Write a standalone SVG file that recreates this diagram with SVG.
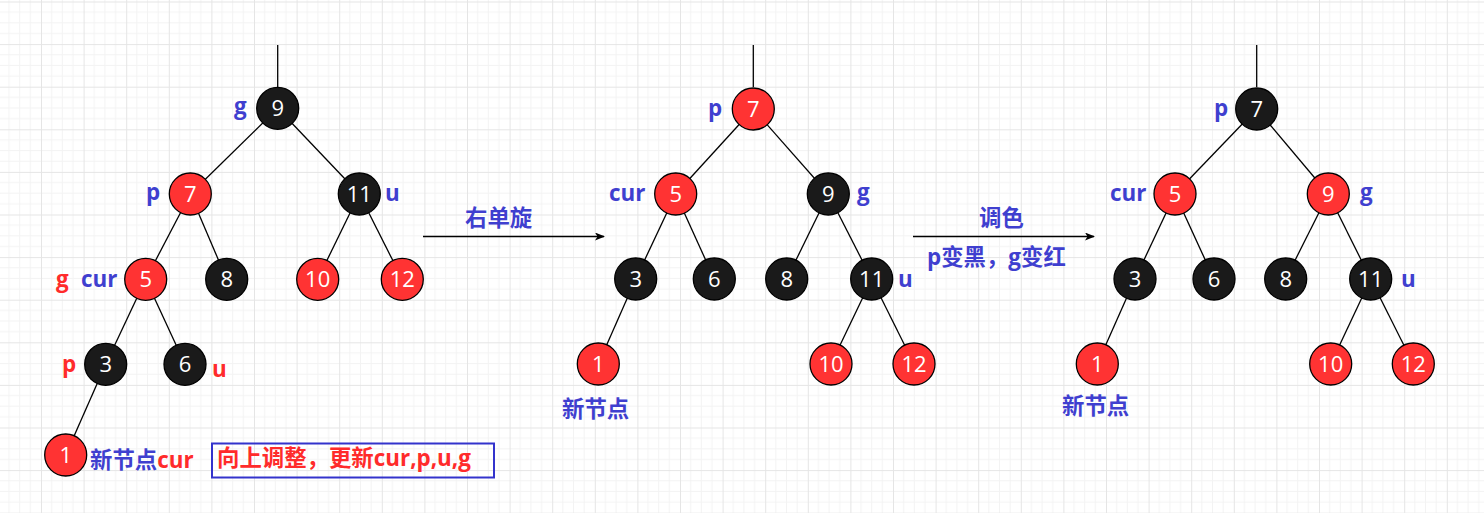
<svg xmlns="http://www.w3.org/2000/svg" width="1484" height="513" viewBox="0 0 1484 513">
<defs>
<pattern id="grid" patternUnits="userSpaceOnUse" x="-1.6" y="1.5" width="42.6" height="42.6">
<path d="M10.65 0V42.6M21.3 0V42.6M31.95 0V42.6M0 10.65H42.6M0 21.3H42.6M0 31.95H42.6" stroke="#f3f3f3" stroke-width="1" fill="none"/>
<path d="M0.5 0V42.6M0 0.5H42.6" stroke="#e5e5e5" stroke-width="1" fill="none"/>
</pattern>
<marker id="arr" viewBox="0 0 10 8" refX="9" refY="4" markerWidth="10" markerHeight="8" markerUnits="userSpaceOnUse" orient="auto">
<path d="M0 0L10 4L0 8L2.5 4Z" fill="#000"/>
</marker>
<style>
.e{stroke:#000;stroke-width:1.3;fill:none}
.r{fill:#ff3333;stroke:#000;stroke-width:1.3}
.b{fill:#1a1a1a;stroke:#000;stroke-width:1.3}
.n{fill:#fff;font-family:"Open Sans","Liberation Sans","Noto Sans CJK SC",sans-serif;font-size:22px;text-anchor:middle}
.l{font-family:"Open Sans","Liberation Sans","Noto Sans CJK SC",sans-serif;font-size:22.4px;font-weight:bold}
.bl{fill:#3f3fcf}
.rd{fill:#ff2b2b}
</style>
</defs>
<rect width="1484" height="513" fill="#fff"/>
<rect width="1484" height="513" fill="url(#grid)"/>

<g id="connectors">
<!-- tree 1 -->
<path class="e" d="M277.7 45V87"/>
<path class="e" d="M277.7 108.3L190.3 194"/>
<path class="e" d="M277.7 108.3L359.3 194"/>
<path class="e" d="M190.3 194L145.7 279.3"/>
<path class="e" d="M190.3 194L226.7 279.3"/>
<path class="e" d="M359.3 194L317.7 279.3"/>
<path class="e" d="M359.3 194L402.3 279.3"/>
<path class="e" d="M145.7 279.3L105.7 364.3"/>
<path class="e" d="M145.7 279.3L185 364.3"/>
<path class="e" d="M105.7 364.3L65.7 455"/>
<!-- tree 2 -->
<path class="e" d="M753.3 45V87"/>
<path class="e" d="M753.3 109L675.7 194"/>
<path class="e" d="M753.3 109L828.3 194"/>
<path class="e" d="M675.7 194L635.7 279"/>
<path class="e" d="M675.7 194L714.3 279"/>
<path class="e" d="M828.3 194L786.7 279"/>
<path class="e" d="M828.3 194L871.7 279"/>
<path class="e" d="M635.7 279L598.3 364"/>
<path class="e" d="M871.7 279L831 364"/>
<path class="e" d="M871.7 279L914 364"/>
<!-- tree 3 -->
<path class="e" d="M1256.7 45V87"/>
<path class="e" d="M1256.7 109L1175 194"/>
<path class="e" d="M1256.7 109L1328.3 194"/>
<path class="e" d="M1175 194L1135 279"/>
<path class="e" d="M1175 194L1214 279"/>
<path class="e" d="M1328.3 194L1285.7 279"/>
<path class="e" d="M1328.3 194L1370.7 279"/>
<path class="e" d="M1135 279L1097.3 364"/>
<path class="e" d="M1370.7 279L1330.7 364"/>
<path class="e" d="M1370.7 279L1413.3 364"/>
<!-- transition arrows -->
<path class="e" d="M423 236.5H604" marker-end="url(#arr)"/>
<path class="e" d="M913 236.5H1094" marker-end="url(#arr)"/>
</g>

<!-- tree 1 nodes -->
<g id="t1-n9"><circle class="b" cx="277.7" cy="108.3" r="21"/><text class="n" x="277.7" y="116.3">9</text></g>
<g id="t1-n7"><circle class="r" cx="190.3" cy="194" r="21"/><text class="n" x="190.3" y="202">7</text></g>
<g id="t1-n11"><circle class="b" cx="359.3" cy="194" r="21"/><text class="n" x="359.3" y="202">11</text></g>
<g id="t1-n5"><circle class="r" cx="145.7" cy="279.3" r="21"/><text class="n" x="145.7" y="287.3">5</text></g>
<g id="t1-n8"><circle class="b" cx="226.7" cy="279.3" r="21"/><text class="n" x="226.7" y="287.3">8</text></g>
<g id="t1-n10"><circle class="r" cx="317.7" cy="279.3" r="21"/><text class="n" x="317.7" y="287.3">10</text></g>
<g id="t1-n12"><circle class="r" cx="402.3" cy="279.3" r="21"/><text class="n" x="402.3" y="287.3">12</text></g>
<g id="t1-n3"><circle class="b" cx="105.7" cy="364.3" r="21"/><text class="n" x="105.7" y="372.3">3</text></g>
<g id="t1-n6"><circle class="b" cx="185" cy="364.3" r="21"/><text class="n" x="185" y="372.3">6</text></g>
<g id="t1-n1"><circle class="r" cx="65.7" cy="455" r="21"/><text class="n" x="65.7" y="463">1</text></g>

<g id="t1-labels">
<text class="l bl" x="234" y="114">g</text>
<text class="l bl" x="146" y="200">p</text>
<text class="l bl" x="385" y="201">u</text>
<text class="l rd" x="56" y="286.5">g</text>
<text class="l bl" x="81" y="286.5">cur</text>
<text class="l rd" x="62" y="372">p</text>
<text class="l rd" x="212" y="377">u</text>
<text class="l" x="90" y="468"><tspan class="bl">新节点</tspan><tspan class="rd">cur</tspan></text>
</g>
<g id="note">
<rect x="212" y="443.5" width="282" height="34" fill="none" stroke="#3333cc" stroke-width="2"/>
<text class="l rd" x="217" y="466">向上调整，更新cur,p,u,g</text>
</g>

<g id="step1-label"><text class="l bl" x="465" y="226">右单旋</text></g>
<g id="step2-label">
<text class="l bl" x="979" y="226">调色</text>
<text class="l bl" x="927" y="265">p变黑，g变红</text>
</g>

<!-- tree 2 nodes -->
<g id="t2-n7"><circle class="r" cx="753.3" cy="109" r="21"/><text class="n" x="753.3" y="117">7</text></g>
<g id="t2-n5"><circle class="r" cx="675.7" cy="194" r="21"/><text class="n" x="675.7" y="202">5</text></g>
<g id="t2-n9"><circle class="b" cx="828.3" cy="194" r="21"/><text class="n" x="828.3" y="202">9</text></g>
<g id="t2-n3"><circle class="b" cx="635.7" cy="279" r="21"/><text class="n" x="635.7" y="287">3</text></g>
<g id="t2-n6"><circle class="b" cx="714.3" cy="279" r="21"/><text class="n" x="714.3" y="287">6</text></g>
<g id="t2-n8"><circle class="b" cx="786.7" cy="279" r="21"/><text class="n" x="786.7" y="287">8</text></g>
<g id="t2-n11"><circle class="b" cx="871.7" cy="279" r="21"/><text class="n" x="871.7" y="287">11</text></g>
<g id="t2-n1"><circle class="r" cx="598.3" cy="364" r="21"/><text class="n" x="598.3" y="372">1</text></g>
<g id="t2-n10"><circle class="r" cx="831" cy="364" r="21"/><text class="n" x="831" y="372">10</text></g>
<g id="t2-n12"><circle class="r" cx="914" cy="364" r="21"/><text class="n" x="914" y="372">12</text></g>
<g id="t2-labels">
<text class="l bl" x="708" y="116">p</text>
<text class="l bl" x="609" y="201">cur</text>
<text class="l bl" x="857" y="200">g</text>
<text class="l bl" x="898" y="287">u</text>
<text class="l bl" x="562" y="417">新节点</text>
</g>

<!-- tree 3 nodes -->
<g id="t3-n7"><circle class="b" cx="1256.7" cy="109" r="21"/><text class="n" x="1256.7" y="117">7</text></g>
<g id="t3-n5"><circle class="r" cx="1175" cy="194" r="21"/><text class="n" x="1175" y="202">5</text></g>
<g id="t3-n9"><circle class="r" cx="1328.3" cy="194" r="21"/><text class="n" x="1328.3" y="202">9</text></g>
<g id="t3-n3"><circle class="b" cx="1135" cy="279" r="21"/><text class="n" x="1135" y="287">3</text></g>
<g id="t3-n6"><circle class="b" cx="1214" cy="279" r="21"/><text class="n" x="1214" y="287">6</text></g>
<g id="t3-n8"><circle class="b" cx="1285.7" cy="279" r="21"/><text class="n" x="1285.7" y="287">8</text></g>
<g id="t3-n11"><circle class="b" cx="1370.7" cy="279" r="21"/><text class="n" x="1370.7" y="287">11</text></g>
<g id="t3-n1"><circle class="r" cx="1097.3" cy="364" r="21"/><text class="n" x="1097.3" y="372">1</text></g>
<g id="t3-n10"><circle class="r" cx="1330.7" cy="364" r="21"/><text class="n" x="1330.7" y="372">10</text></g>
<g id="t3-n12"><circle class="r" cx="1413.3" cy="364" r="21"/><text class="n" x="1413.3" y="372">12</text></g>
<g id="t3-labels">
<text class="l bl" x="1214" y="116">p</text>
<text class="l bl" x="1110" y="201">cur</text>
<text class="l bl" x="1360" y="200">g</text>
<text class="l bl" x="1401" y="287">u</text>
<text class="l bl" x="1062" y="414">新节点</text>
</g>
</svg>
